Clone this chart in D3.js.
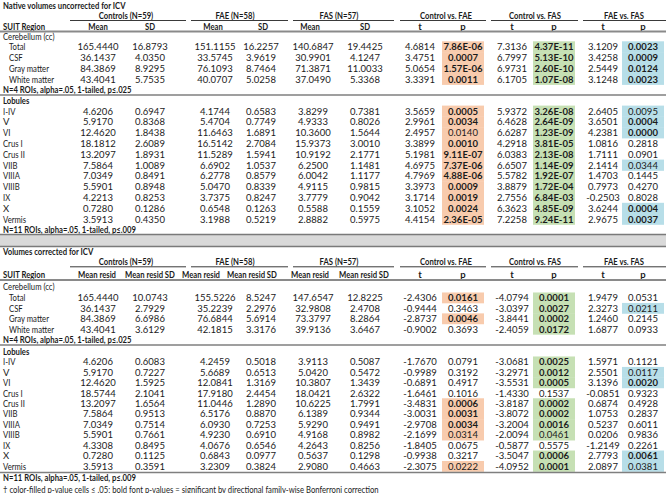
<!DOCTYPE html>
<html><head><meta charset="utf-8">
<script src="https://cdn.jsdelivr.net/npm/d3@7/dist/d3.min.js"></script>
<style>body{margin:0;background:#fff}svg{display:block}</style>
</head><body>
<script>
// ---------- DATA ----------
const cerebRegions = ["Total","CSF","Gray matter","White matter"];
const lobuleRegions = ["I-IV","V","VI","Crus I","Crus II","VIIB","VIIIA","VIIIB","IX","X","Vermis"];
const groupLabels = ["Controls (N=59)","FAE (N=58)","FAS (N=57)"];
const compLabels = ["Control vs. FAE","Control vs. FAS","FAE vs. FAS"];
const nativeColHeads = ["Mean","SD"];
const correctedColHeads = ["Mean resid","Mean resid SD"];
const nativeTitle = "Native volumes uncorrected for ICV";
const correctedTitle = "Volumes corrected for ICV";
const cerebNote = "N=4 ROIs, alpha=.05, 1-tailed, p≤.025";
const lobuleNote = "N=11 ROIs, alpha=.05, 1-tailed, p≤.009";
const footnote = "† color-filled p-value cells ≤ .05; bold font p-values = significant by directional family-wise Bonferroni correction";

// Controls mean, SD, FAE mean, SD, FAS mean, SD
const nativeStats = [
 ["165.4440","16.8793","151.1155","16.2257","140.6847","19.4425"],
 ["36.1437","4.0350","33.5745","3.9619","30.9901","4.1247"],
 ["84.3869","8.9295","76.1093","8.7464","71.3871","11.0033"],
 ["43.4041","5.7535","40.0707","5.0258","37.0490","5.3368"],
 ["4.6206","0.6947","4.1744","0.6583","3.8299","0.7381"],
 ["5.9170","0.8368","5.4704","0.7749","4.9333","0.8026"],
 ["12.4620","1.8438","11.6463","1.6891","10.3600","1.5644"],
 ["18.1812","2.6089","16.5142","2.7084","15.9373","3.0010"],
 ["13.2097","1.8931","11.5289","1.5941","10.9192","2.1771"],
 ["7.5864","1.0089","6.6902","1.0537","6.2500","1.1481"],
 ["7.0349","0.8491","6.2778","0.8579","6.0042","1.1177"],
 ["5.5901","0.8948","5.0470","0.8339","4.9115","0.9815"],
 ["4.2213","0.8253","3.7375","0.8247","3.7779","0.9042"],
 ["0.7280","0.1286","0.6548","0.1263","0.5588","0.1559"],
 ["3.5913","0.4350","3.1988","0.5219","2.8882","0.5975"]
];
// t, p for Control vs FAE, Control vs FAS, FAE vs FAS
const nativeTests = [
 ["4.6814","7.86E-06","7.3136","4.37E-11","3.1209","0.0023"],
 ["3.4751","0.0007","6.7997","5.13E-10","3.4258","0.0009"],
 ["5.0654","1.57E-06","6.9731","2.60E-10","2.5449","0.0124"],
 ["3.3391","0.0011","6.1705","1.07E-08","3.1248","0.0023"],
 ["3.5659","0.0005","5.9372","3.26E-08","2.6405","0.0095"],
 ["2.9961","0.0034","6.4628","2.64E-09","3.6501","0.0004"],
 ["2.4957","0.0140","6.6287","1.23E-09","4.2381","0.0000"],
 ["3.3899","0.0010","4.2918","3.81E-05","1.0816","0.2818"],
 ["5.1981","9.11E-07","6.0383","2.13E-08","1.7111","0.0901"],
 ["4.6975","7.37E-06","6.6507","1.14E-09","2.1414","0.0344"],
 ["4.7969","4.88E-06","5.5782","1.92E-07","1.4703","0.1445"],
 ["3.3973","0.0009","3.8879","1.72E-04","0.7973","0.4270"],
 ["3.1714","0.0019","2.7556","6.84E-03","-0.2503","0.8028"],
 ["3.1052","0.0024","6.3623","4.85E-09","3.6244","0.0004"],
 ["4.4154","2.36E-05","7.2258","9.24E-11","2.9675","0.0037"]
];
const nativeBold = [
 [1,1,1],[1,1,1],[1,1,1],[1,1,1],
 [1,1,0],[1,1,1],[0,1,1],[1,1,0],[1,1,0],[1,1,0],[1,1,0],[1,1,0],[1,1,0],[1,1,1],[1,1,1]
];
const correctedStats = [
 ["165.4440","10.0743","155.5226","8.5247","147.6547","12.8225"],
 ["36.1437","2.7929","35.2239","2.2976","32.9808","2.4708"],
 ["84.3869","6.6986","76.6844","5.6914","73.3797","8.2864"],
 ["43.4041","3.6129","42.1815","3.3176","39.9136","3.6467"],
 ["4.6206","0.6083","4.2459","0.5018","3.9113","0.5087"],
 ["5.9170","0.7227","5.6689","0.6513","5.0420","0.5472"],
 ["12.4620","1.5925","12.0841","1.3169","10.3807","1.3439"],
 ["18.5744","2.1041","17.9180","2.4454","18.0421","2.6322"],
 ["13.2097","1.6564","11.0446","1.2890","10.6225","1.7991"],
 ["7.5864","0.9513","6.5176","0.8870","6.1389","0.9344"],
 ["7.0349","0.7514","6.0930","0.7253","5.9290","0.9491"],
 ["5.5901","0.7661","4.9230","0.6910","4.9168","0.8982"],
 ["4.3308","0.8495","4.0676","0.6546","4.2643","0.8256"],
 ["0.7280","0.1125","0.6843","0.0977","0.5637","0.1298"],
 ["3.5913","0.3591","3.2309","0.3824","2.9080","0.4663"]
];
const correctedTests = [
 ["-2.4306","0.0161","-4.0794","0.0001","1.9479","0.0531"],
 ["-0.9444","0.3463","-3.0397","0.0027","2.3273","0.0211"],
 ["-2.8737","0.0046","-3.8441","0.0002","1.2460","0.2145"],
 ["-0.9002","0.3693","-2.4059","0.0172","1.6877","0.0933"],
 ["-1.7670","0.0791","-3.0681","0.0025","1.5971","0.1121"],
 ["-0.9989","0.3192","-3.2971","0.0012","2.5501","0.0117"],
 ["-0.6891","0.4917","-3.5531","0.0005","3.1396","0.0020"],
 ["-1.6461","0.1016","-1.4330","0.1537","-0.0851","0.9323"],
 ["-3.4831","0.0006","-3.8187","0.0002","0.6874","0.4928"],
 ["-3.0031","0.0031","-3.8072","0.0002","1.0753","0.2837"],
 ["-2.9708","0.0034","-3.2004","0.0016","0.5237","0.6011"],
 ["-2.1699","0.0314","-2.0094","0.0461","0.0206","0.9836"],
 ["-1.8405","0.0675","-0.5877","0.5575","-1.2149","0.2261"],
 ["-0.9938","0.3217","-3.5047","0.0006","2.7793","0.0061"],
 ["-2.3075","0.0222","-4.0952","0.0001","2.0897","0.0381"]
];
const correctedBold = [
 [1,1,0],[0,1,0],[1,1,0],[0,1,0],
 [0,1,0],[0,1,0],[0,1,1],[0,0,0],[1,1,0],[1,1,0],[1,1,0],[0,0,0],[0,0,0],[0,1,1],[0,1,0]
];

// ---------- LAYOUT ----------
const W = 666, H = 493;
const FONT = "Lato, 'Open Sans', sans-serif";
const FS = 9.5;
const TXT = "#1b1b1b";
const SQUEEZE = 0.81;   // letters are narrower in the reference typeface
const fills = ["#f8cbad","#c6e0b4","#b7dee8"];
const statKeys = ["m1","s1","m2","s2","m3","s3"];
const testKeys = ["t1","p1","t2","p2","t3","p3"];
const x = d3.scaleOrdinal()
  .domain(statKeys.concat(testKeys))
  .range([98,150,215,261,313,365, 420,463,512,554,603,643]);
const groupX = d3.scaleOrdinal().domain([0,1,2]).range([126,235,339]);
const compX = d3.scaleOrdinal().domain([0,1,2]).range([446,535,624]);
const groupLine = [[70,186],[191,288],[293,394]];
const compLine = [[400,486],[491,578],[583,666]];

const svg = d3.select("body").append("svg").attr("width",W).attr("height",H)
  .style("font-family",FONT).style("font-size",FS+"px");

function txt(g, xx, yy, s, opt={}) {
  const t = g.append("text").attr("x",xx).attr("y",yy)
    .attr("dominant-baseline","central")
    .attr("text-anchor",opt.anchor||"start")
    .attr("font-weight",opt.bold?"700":"400")
    .attr("fill",TXT).text(s);
  if (/[A-Za-z]{2,}/.test(s)) {
    const len = t.node().getComputedTextLength();
    t.attr("textLength", (len*SQUEEZE).toFixed(2)).attr("lengthAdjust","spacingAndGlyphs");
  }
  return t;
}
function hline(g, x1, x2, yy, w, c) {
  g.append("line").attr("x1",x1).attr("x2",x2).attr("y1",yy).attr("y2",yy)
    .attr("stroke",c).attr("stroke-width",w);
}

function drawTable(cfg) {
  const g = svg.append("g");
  txt(g, 3, cfg.yTitle, cfg.title, {bold:true});
  groupLabels.forEach((l,i)=>{
    txt(g, groupX(i), cfg.yGroup, l, {bold:true, anchor:"middle"});
    hline(g, groupLine[i][0], groupLine[i][1], cfg.yUnder, 1, "#3a3a3a");
  });
  compLabels.forEach((l,i)=>{
    txt(g, compX(i), cfg.yGroup, l, {bold:true, anchor:"middle"});
    hline(g, compLine[i][0], compLine[i][1], cfg.yUnder, 1, "#3a3a3a");
  });
  txt(g, 3, cfg.yCol, "SUIT Region", {bold:true});
  cfg.headX.forEach((hx,i)=>{
    txt(g, hx, cfg.yCol, cfg.colHeads[i%2], {bold:true, anchor:"middle"});
  });
  ["t","p","t","p","t","p"].forEach((h,i)=>{
    txt(g, x(testKeys[i]), cfg.yCol, h, {bold:true, anchor:"middle"});
  });
  hline(g, 0, W, cfg.yHeadLine, 2, "#8a8a8a");

  const yC = d3.scaleLinear().domain([0,1]).range([cfg.yTotal, cfg.yTotal+cfg.rowH]);
  const yL = d3.scaleLinear().domain([0,1]).range([cfg.yLob0, cfg.yLob0+cfg.rowH]);
  const rowY = i => i < cerebRegions.length ? yC(i) : yL(i - cerebRegions.length);
  const regions = cerebRegions.concat(lobuleRegions);

  const pIdx = [1,3,5];
  pIdx.forEach((pi,k)=>{
    const rows = cfg.tests.map((r,i)=>({i, p:+r[pi]})).filter(d=>d.p<=0.05);
    g.selectAll(null).data(rows).enter().append("rect")
      .attr("x", x(testKeys[pi]) - 21)
      .attr("y", d => rowY(d.i) - cfg.rowH/2)
      .attr("width", 42)
      .attr("height", cfg.rowH + 0.4)
      .attr("fill", fills[k]);
  });

  txt(g, 3, cfg.yCereb, "Cerebellum (cc)");
  regions.forEach((r,i)=>{
    txt(g, i < cerebRegions.length ? 9 : 3, rowY(i), r);
    cfg.stats[i].forEach((v,j)=> txt(g, x(statKeys[j]), rowY(i), v, {anchor:"middle"}));
    cfg.tests[i].forEach((v,j)=> txt(g, x(testKeys[j]), rowY(i), v,
      {anchor:"middle", bold: (j%2===1) && cfg.bold[i][(j-1)/2]===1}));
  });
  txt(g, 3, cfg.yNote4, cerebNote, {bold:true});
  hline(g, 0, W, cfg.yNoteLine, 1.5, "#7f7f7f");
  txt(g, 3, cfg.yLobules, "Lobules", {bold:true});
  if (cfg.yBottomLine) hline(g, 0, W, cfg.yBottomLine, 1.5, "#7f7f7f");
  txt(g, 3, cfg.yNote11, lobuleNote, {bold:true});
}

drawTable({
  title: nativeTitle, colHeads: nativeColHeads, stats: nativeStats, tests: nativeTests, bold: nativeBold,
  headX: [98,150,213,263,310,365],
  yTitle: 5.5, yGroup: 15.2, yUnder: 20.5, yCol: 26, yHeadLine: 31.5, yCereb: 36,
  yTotal: 46.7, rowH: 10.8, yNote4: 89.3, yNoteLine: 95, yLobules: 100.5, yLob0: 111,
  yNote11: 229.3, yBottomLine: null
});

svg.append("rect").attr("x",0).attr("y",234.5).attr("width",W).attr("height",12)
  .attr("fill","#d9d9d9");
hline(svg, 0, W, 234.5, 1.5, "#7a7a7a");
hline(svg, 0, W, 246.5, 1.5, "#7a7a7a");

drawTable({
  title: correctedTitle, colHeads: correctedColHeads, stats: correctedStats, tests: correctedTests, bold: correctedBold,
  headX: [97,150,201,252,310,364],
  yTitle: 251.8, yGroup: 261.7, yUnder: 266.8, yCol: 274.2, yHeadLine: 280, yCereb: 286,
  yTotal: 297.7, rowH: 10.45, yNote4: 339.5, yNoteLine: 345, yLobules: 351, yLob0: 361.7,
  yNote11: 477.8, yBottomLine: 472.6
});

txt(svg, 3, 489, footnote);
</script>
</body></html>
